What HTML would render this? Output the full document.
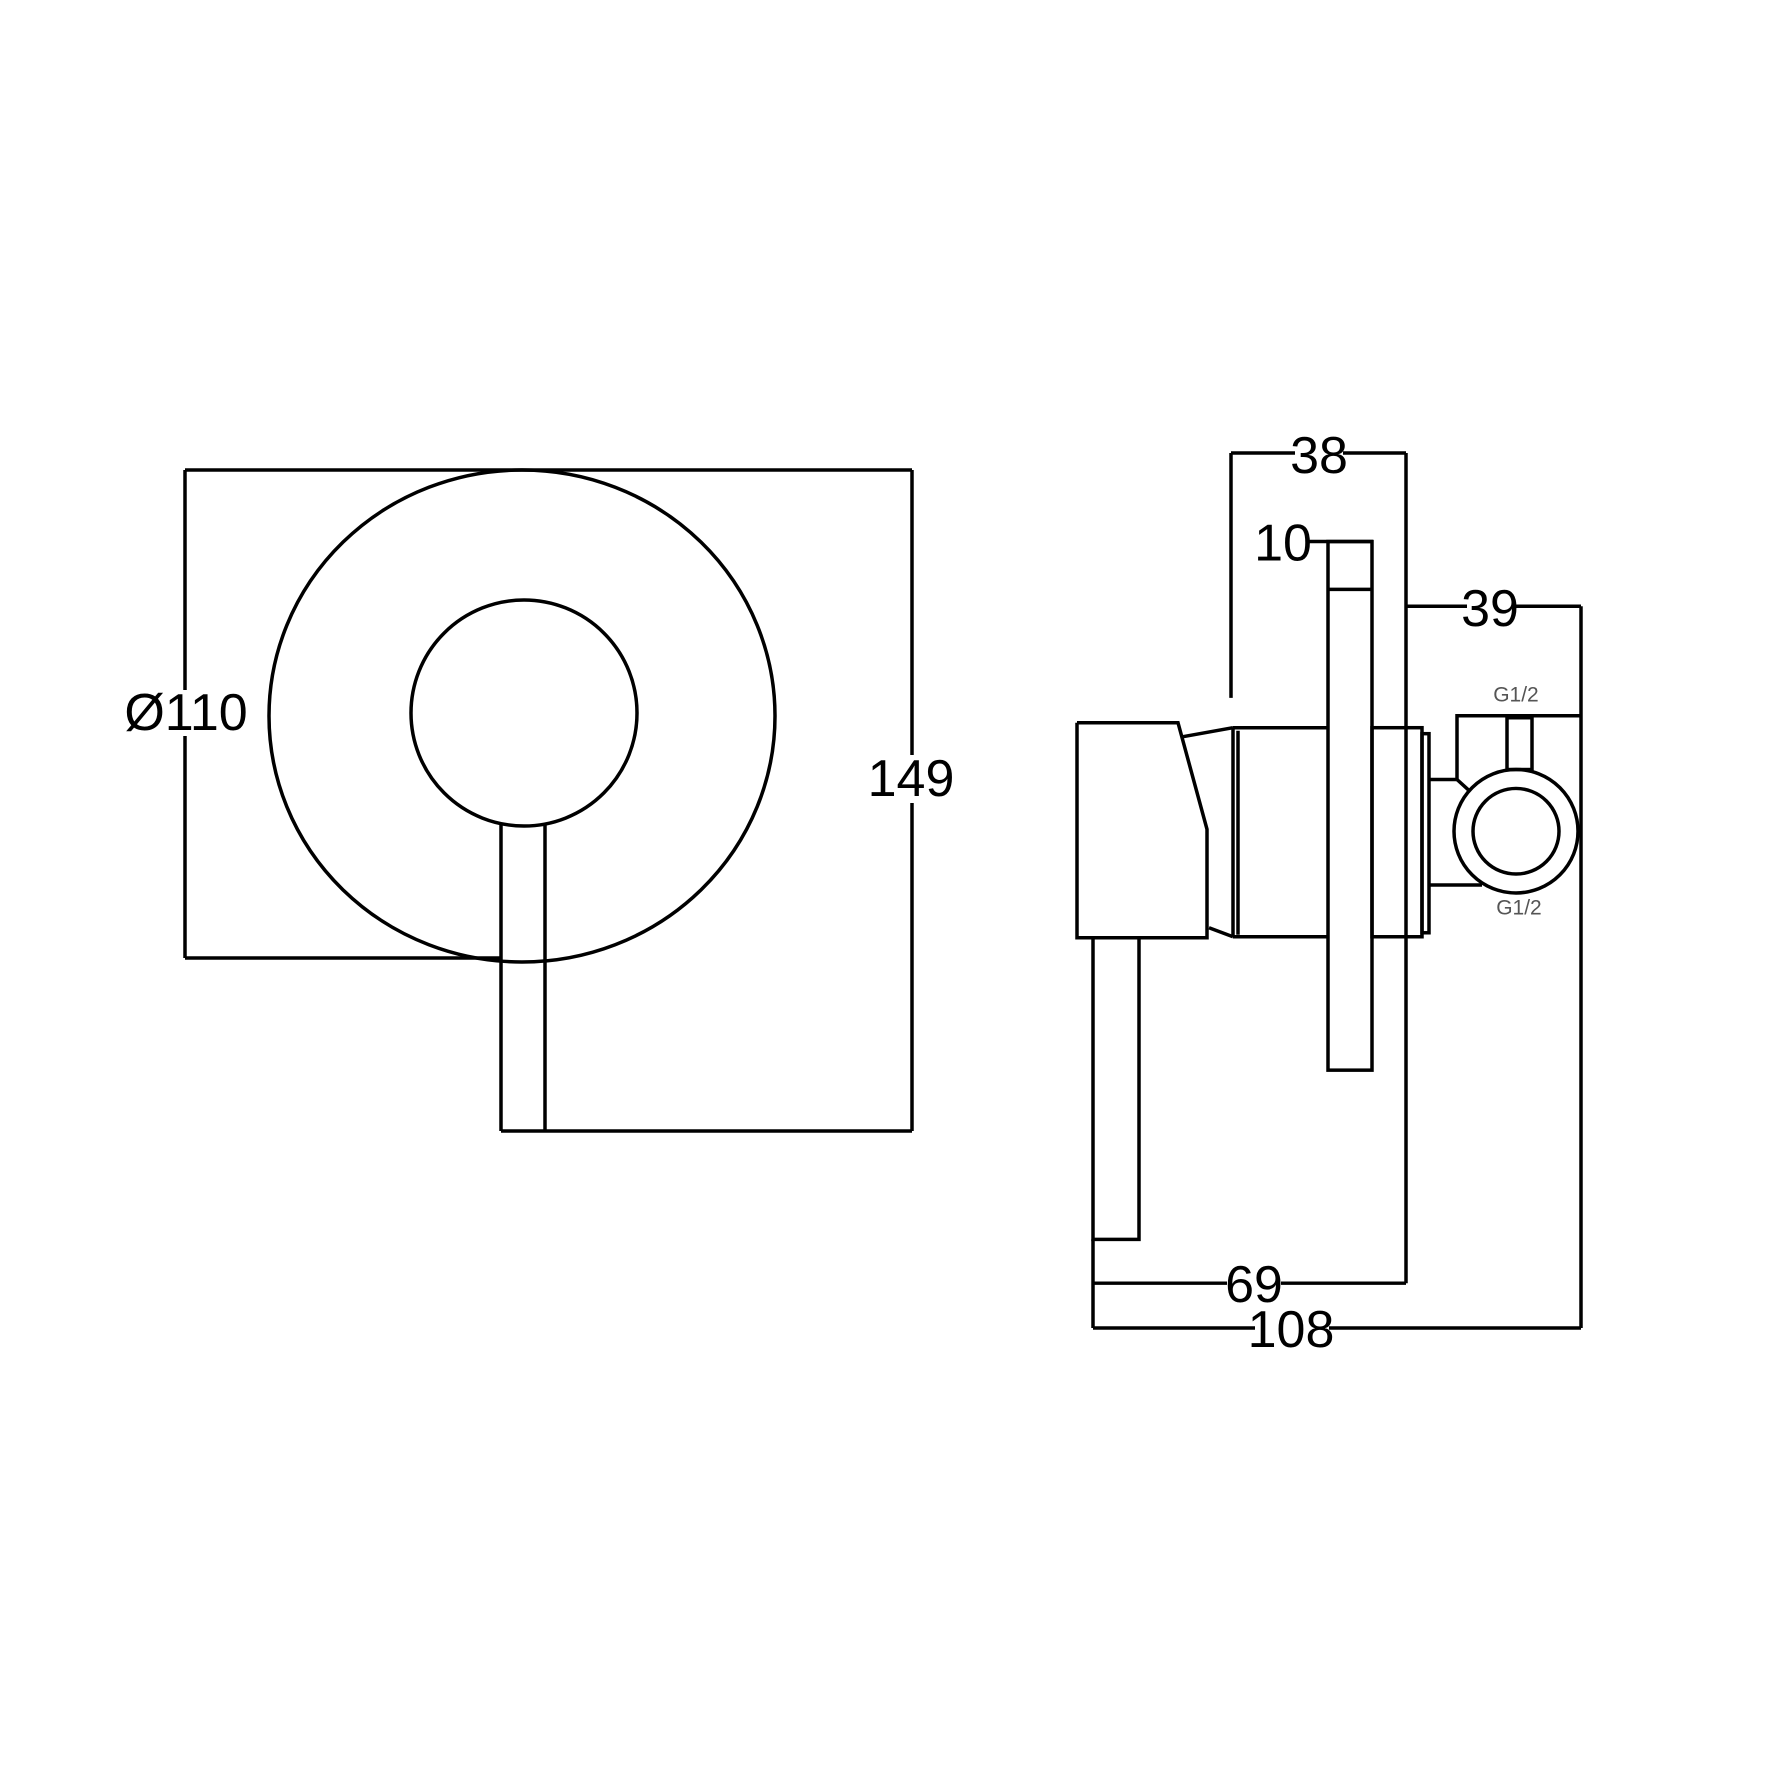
<!DOCTYPE html>
<html><head><style>body{margin:0;background:#fff}svg{display:block}</style></head><body>
<svg width="1772" height="1772" viewBox="0 0 1772 1772" xmlns="http://www.w3.org/2000/svg" font-family="Liberation Sans, sans-serif">
<g fill="none" stroke="#000" stroke-width="3.5">
<!-- front view -->
<line x1="185" y1="470" x2="912" y2="470"/>
<line x1="185" y1="470" x2="185" y2="958"/>
<line x1="185" y1="958" x2="501" y2="958"/>
<line x1="912" y1="470" x2="912" y2="1131"/>
<line x1="501" y1="1131" x2="912" y2="1131"/>
<ellipse cx="522" cy="716" rx="253" ry="246"/>
<circle cx="524" cy="713" r="113"/>
<line x1="501" y1="823" x2="501" y2="1131"/>
<line x1="545" y1="823" x2="545" y2="1131"/>
</g>
<g transform="translate(-7,-1) scale(1,0.9955)">
<g fill="none" stroke="#000" stroke-width="3.5">
<line x1="1238" y1="456" x2="1238" y2="702"/>
<line x1="1238" y1="456" x2="1413" y2="456"/>
<line x1="1413" y1="456" x2="1413" y2="1290"/>
<line x1="1316" y1="545" x2="1380" y2="545"/>
<line x1="1413" y1="610" x2="1588" y2="610"/>
<line x1="1588" y1="610" x2="1588" y2="1335"/>
<line x1="1100" y1="1246" x2="1100" y2="1335"/>
<line x1="1100" y1="1290" x2="1413" y2="1290"/>
<line x1="1100" y1="1335" x2="1588" y2="1335"/>
<rect x="1335" y="545" width="44" height="531"/>
<line x1="1335" y1="593" x2="1379" y2="593"/>
<polyline points="1084,727 1185,727 1214,834 1214,943 1084,943 1084,727"/>
<line x1="1190" y1="741" x2="1240" y2="732"/>
<line x1="1216" y1="933" x2="1240" y2="942"/>
<line x1="1240" y1="732" x2="1335" y2="732"/>
<line x1="1240" y1="942" x2="1335" y2="942"/>
<line x1="1240" y1="732" x2="1240" y2="942"/>
<line x1="1245" y1="735" x2="1245" y2="940"/>
<rect x="1379" y="732" width="50" height="210"/>
<rect x="1429" y="738" width="7" height="200"/>
<rect x="1100" y="943" width="46" height="303"/>
<polyline points="1437,784 1464,784 1464,720 1588,720"/>
<line x1="1464" y1="784" x2="1476" y2="795"/>
<line x1="1437" y1="890" x2="1489" y2="890"/>
<rect x="1514" y="722" width="25" height="52"/>
<circle cx="1523" cy="836" r="62"/>
<circle cx="1523" cy="836" r="43"/>
</g>
<g fill="#000" font-size="52" text-anchor="middle" dominant-baseline="central">
<rect x="1302" y="438" width="48" height="36" fill="#fff"/>
<text x="1326" y="458">38</text>
<text x="1290" y="546">10</text>
<rect x="1474" y="592" width="46" height="36" fill="#fff"/>
<text x="1497" y="612">39</text>
<rect x="1234" y="1270" width="54" height="40" fill="#fff"/>
<text x="1261" y="1291">69</text>
<rect x="1262" y="1315" width="74" height="40" fill="#fff"/>
<text x="1298" y="1336">108</text>
<text x="1523" y="699" font-size="21" fill="#555">G1/2</text>
<text x="1526" y="913" font-size="21" fill="#555">G1/2</text>
</g>
</g>
<g fill="#000" font-size="52" text-anchor="middle" dominant-baseline="central">
<rect x="130" y="690" width="112" height="46" fill="#fff"/>
<text x="186" y="713">Ø110</text>
<rect x="872" y="755" width="82" height="48" fill="#fff"/>
<text x="911" y="779">149</text>
</g>
</svg>
</body></html>
